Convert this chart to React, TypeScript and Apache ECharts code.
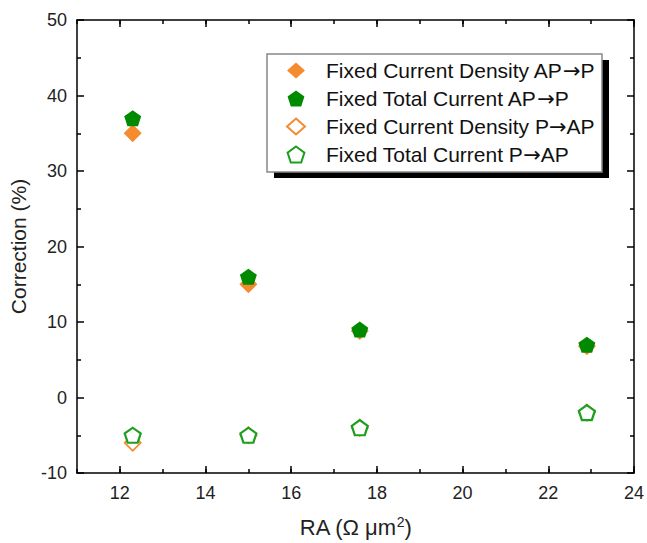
import React, { useEffect, useRef } from "react";
import * as echarts from "echarts";

const raValues = [12.3, 15.0, 17.6, 22.9];
const densityAPtoP = [35, 15, 8.8, 6.8];
const totalAPtoP = [37, 16, 9, 7];
const densityPtoAP = [-6, -5, -4, -2];
const totalPtoAP = [-5, -5, -4, -2];
const xMajorTicks = [12, 14, 16, 18, 20, 22, 24];
const seriesNames = [
  "Fixed Current Density AP\u2192P",
  "Fixed Total Current AP\u2192P",
  "Fixed Current Density P\u2192AP",
  "Fixed Total Current P\u2192AP",
];

const ORANGE = "#F58A2E";
const GREEN = "#008A00";
const GREEN_HOLLOW = "#1E9E1E";
const PENTAGON = "path://M0,-1 L0.951,-0.309 L0.588,0.809 L-0.588,0.809 L-0.951,-0.309 Z";
const FONT = "Liberation Sans, Arial, sans-serif";

function pairs(ys: number[]) {
  return raValues.map((x, i) => [x, ys[i]]);
}

export default function App() {
  const ref = useRef<HTMLDivElement>(null);
  useEffect(() => {
    if (!ref.current) return;
    const chart = echarts.init(ref.current, undefined, { renderer: "svg" });
    const axisLine = { show: true, onZero: false, lineStyle: { color: "#000", width: 1.5 } };
    const xBase = { type: "value", min: 11, max: 24, splitLine: { show: false }, axisLine };
    const yBase = { type: "value", min: -10, max: 50, interval: 10, splitLine: { show: false }, axisLine };
    const tickStyle = { color: "#000", width: 1.5 };
    chart.setOption({
      animation: false,
      backgroundColor: "#fff",
      grid: { left: 74, top: 20, right: 11, bottom: 70, containLabel: false },
      xAxis: [
        {
          ...xBase,
          position: "bottom",
          axisTick: { show: true, inside: true, length: 7, customValues: xMajorTicks, lineStyle: tickStyle },
          axisLabel: { show: true, customValues: xMajorTicks, color: "#222", fontSize: 18, fontFamily: FONT, margin: 11 },
          name: "{a|RA (\u03A9 \u03BCm}{sup|2}{a|)}",
          nameLocation: "middle",
          nameGap: 42,
          nameTextStyle: {
            rich: {
              a: { fontSize: 22, fontFamily: FONT, color: "#222" },
              sup: { fontSize: 14, fontFamily: FONT, color: "#222", verticalAlign: "top", padding: [0, 0, 10, 0] },
            },
          },
        },
        {
          ...xBase,
          position: "top",
          axisTick: { show: true, inside: true, length: 7, customValues: xMajorTicks, lineStyle: tickStyle },
          axisLabel: { show: false },
        },
        {
          ...xBase,
          interval: 1,
          position: "bottom",
          axisLine: { show: false, onZero: false },
          axisTick: { show: true, inside: true, length: 4, lineStyle: tickStyle },
          axisLabel: { show: false },
        },
        {
          ...xBase,
          interval: 1,
          position: "top",
          axisLine: { show: false, onZero: false },
          axisTick: { show: true, inside: true, length: 4, lineStyle: tickStyle },
          axisLabel: { show: false },
        },
      ],
      yAxis: [
        {
          ...yBase,
          position: "left",
          axisTick: { show: true, inside: true, length: 7, lineStyle: tickStyle },
          minorTick: { show: true, splitNumber: 2, length: 4, lineStyle: tickStyle },
          axisLabel: { color: "#222", fontSize: 18, fontFamily: FONT, margin: 10 },
          name: "Correction (%)",
          nameLocation: "middle",
          nameGap: 48,
          nameTextStyle: { fontSize: 21, fontFamily: FONT, color: "#222" },
        },
        {
          ...yBase,
          position: "right",
          axisTick: { show: true, inside: true, length: 7, lineStyle: tickStyle },
          minorTick: { show: true, splitNumber: 2, length: 4, lineStyle: tickStyle },
          axisLabel: { show: false },
        },
      ],
      legend: {
        orient: "vertical",
        left: 286,
        top: 60,
        padding: 0,
        itemWidth: 18,
        itemHeight: 16,
        itemGap: 7,
        backgroundColor: "transparent",
        data: seriesNames,
        formatter: (name: string) => {
          const parts = name.split("\u2192");
          return "{t|" + parts[0] + "}{arr|\u2192}{t|" + parts[1] + "}";
        },
        textStyle: {
          padding: [0, 0, 0, 16],
          rich: {
            t: { fontSize: 21, fontFamily: FONT, color: "#111", lineHeight: 21 },
            arr: { fontSize: 21, fontFamily: "DejaVu Sans, sans-serif", color: "#111", lineHeight: 21 },
          },
        },
        z: 10,
      },
      graphic: [
        { type: "rect", shape: { x: 274, y: 60, width: 335, height: 118 }, style: { fill: "#000" }, z: 5 },
        { type: "rect", shape: { x: 267, y: 54, width: 335, height: 118 }, style: { fill: "#fff", stroke: "#888", lineWidth: 1.5 }, z: 6 },
      ],
      series: [
        {
          name: seriesNames[0],
          type: "scatter",
          data: pairs(densityAPtoP),
          symbol: "diamond",
          symbolSize: [18, 18],
          itemStyle: { color: ORANGE, opacity: 1 },
          z: 2,
        },
        {
          name: seriesNames[1],
          type: "scatter",
          data: pairs(totalAPtoP),
          symbol: PENTAGON,
          symbolSize: [17, 16],
          itemStyle: { color: GREEN, opacity: 1 },
          z: 3,
        },
        {
          name: seriesNames[2],
          type: "scatter",
          data: pairs(densityPtoAP),
          symbol: "diamond",
          symbolSize: [16, 16],
          itemStyle: { color: "#fff", borderColor: ORANGE, borderWidth: 1.8, opacity: 1 },
          z: 2,
        },
        {
          name: seriesNames[3],
          type: "scatter",
          data: pairs(totalPtoAP),
          symbol: PENTAGON,
          symbolSize: [16, 15],
          itemStyle: { color: "#fff", borderColor: GREEN_HOLLOW, borderWidth: 2.2, opacity: 1 },
          z: 3,
        },
      ],
    });
    return () => chart.dispose();
  }, []);
  return <div ref={ref} style={{ position: "fixed", left: 0, top: 0, width: 647, height: 543 }} />;
}
